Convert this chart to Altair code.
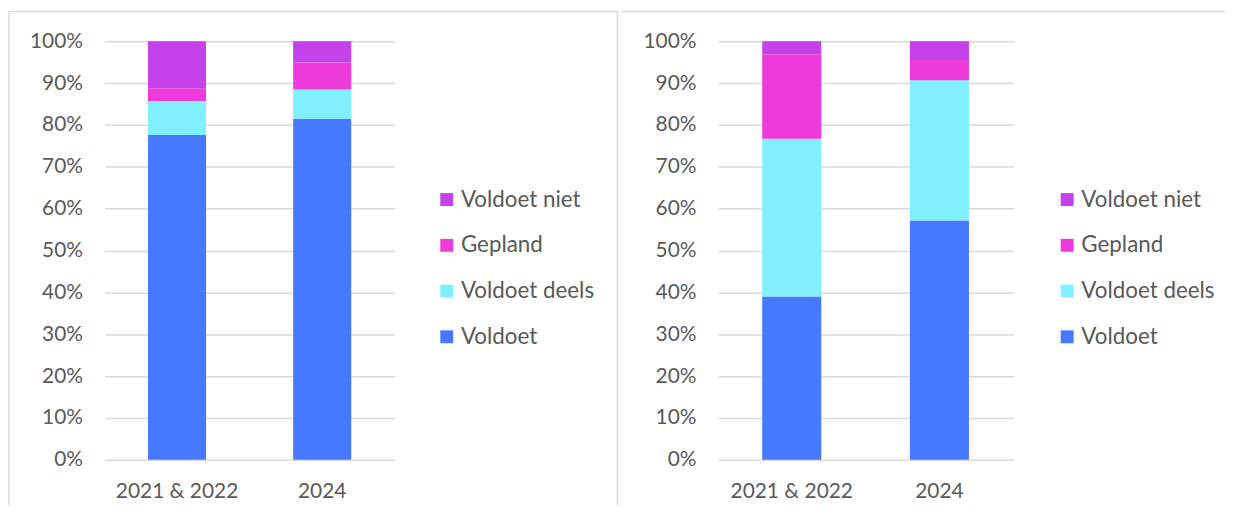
import altair as alt
import pandas as pd

categories = ["2021 & 2022", "2024"]
series_stack = ["Voldoet", "Voldoet deels", "Gepland", "Voldoet niet"]
legend_order = ["Voldoet niet", "Gepland", "Voldoet deels", "Voldoet"]
legend_colors = ["#C541E9", "#EE3ADB", "#80F0FF", "#4779FF"]
y_ticks = [0, 10, 20, 30, 40, 50, 60, 70, 80, 90, 100]

# Left panel (percent)
left_voldoet = [77.6, 81.5]
left_deels = [8.1, 7.0]
left_gepland = [3.1, 6.4]
left_niet = [11.2, 5.1]

# Right panel (percent)
right_voldoet = [39.0, 57.2]
right_deels = [37.7, 33.5]
right_gepland = [20.2, 4.8]
right_niet = [3.1, 4.5]

FONT = "Lato"
TXT = "#595959"
GRID = "#D9D9D9"


def make_df(voldoet, deels, gepland, niet):
    rows = []
    for name, vals in zip(series_stack, [voldoet, deels, gepland, niet]):
        for c, v in zip(categories, vals):
            rows.append({"cat": c, "series": name, "value": v,
                         "ord": series_stack.index(name)})
    return pd.DataFrame(rows)


def border(segments):
    layers = []
    for (x1, x2, y1, y2) in segments:
        layers.append(
            alt.Chart(pd.DataFrame({"k": [0]})).mark_rule(
                color=GRID, strokeWidth=1.5
            ).encode(x=alt.value(x1), x2=alt.value(x2),
                     y=alt.value(y1), y2=alt.value(y2))
        )
    return layers


def panel(df, width, legend_x, segments):
    bars = alt.Chart(df).mark_bar().encode(
        x=alt.X("cat:N", sort=categories,
                scale=alt.Scale(paddingInner=0.6, paddingOuter=0.3),
                axis=alt.Axis(title=None, labelAngle=0, domain=False, ticks=False,
                              labelFont=FONT, labelFontSize=21, labelColor=TXT,
                              labelPadding=21)),
        y=alt.Y("value:Q", stack="zero",
                scale=alt.Scale(domain=[0, 100], nice=False),
                axis=alt.Axis(title=None, values=y_ticks, labelExpr="datum.value + '%'",
                              domain=False, ticks=False, gridColor=GRID, gridWidth=1.5,
                              labelFont=FONT, labelFontSize=21, labelColor=TXT,
                              labelPadding=22)),
        color=alt.Color("series:N",
                        scale=alt.Scale(domain=legend_order, range=legend_colors),
                        legend=alt.Legend(title=None, orient="none",
                                          legendX=legend_x, legendY=148,
                                          symbolType="square", symbolSize=169,
                                          symbolStrokeWidth=0, labelOffset=3,
                                          labelFont=FONT, labelFontSize=22.5,
                                          labelColor=TXT, rowPadding=23, padding=0)),
        order=alt.Order("ord:Q"),
    )
    return alt.layer(bars, *border(segments)).properties(width=width, height=421)


left = panel(make_df(left_voldoet, left_deels, left_gepland, left_niet), 292, 333,
             [(-96, -96, -30, 467), (-96, 516, -30, -30), (516, 516, -30, 467)])
right = panel(make_df(right_voldoet, right_deels, right_gepland, right_niet), 297, 340,
              [(-97, 510, -30, -30)])

chart = alt.hconcat(left, right, spacing=0).resolve_scale(
    color="independent", x="independent", y="independent"
).resolve_legend(color="independent").properties(
    padding={"left": -1, "top": 0, "right": 0, "bottom": 0}
).configure_view(stroke="transparent")

chart.save("out.html", embed_options={"renderer": "svg", "actions": False})
